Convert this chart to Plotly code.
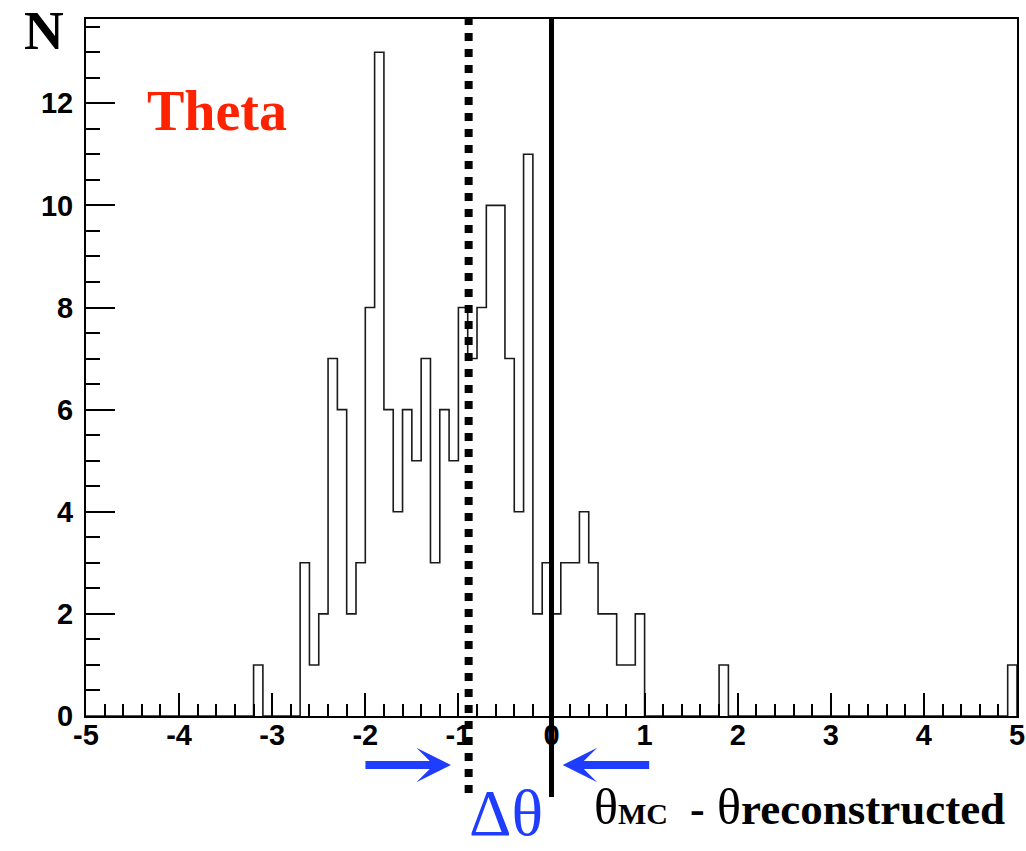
import numpy as np
import plotly.graph_objects as go

# Histogram of theta residuals: 100 bins of width 0.1 between -5 and 5
bin_low = -5.0
bin_width = 0.1
counts = [
    0, 0, 0, 0, 0, 0, 0, 0, 0, 0,      # -5.0 .. -4.1
    0, 0, 0, 0, 0, 0, 0, 0, 1, 0,      # -4.0 .. -3.1
    0, 0, 0, 3, 1, 2, 7, 6, 2, 3,      # -3.0 .. -2.1
    8, 13, 6, 4, 6, 5, 7, 3, 6, 5,     # -2.0 .. -1.1
    8, 7, 8, 10, 10, 7, 4, 11, 2, 3,   # -1.0 .. -0.1
    2, 3, 3, 4, 3, 2, 2, 1, 1, 2,      #  0.0 ..  0.9
    0, 0, 0, 0, 0, 0, 0, 0, 1, 0,      #  1.0 ..  1.9
    0, 0, 0, 0, 0, 0, 0, 0, 0, 0,      #  2.0 ..  2.9
    0, 0, 0, 0, 0, 0, 0, 0, 0, 0,      #  3.0 ..  3.9
    0, 0, 0, 0, 0, 0, 0, 0, 0, 1,      #  4.0 ..  4.9
]
x_tick_vals = [-5, -4, -3, -2, -1, 0, 1, 2, 3, 4, 5]
x_tick_text = ["-5", "-4", "-3", "-2", "-1", "0", "1", "2", "3", "4", "5"]
y_tick_vals = [0, 2, 4, 6, 8, 10, 12]
y_tick_text = ["0", "2", "4", "6", "8", "10", "12"]

# Marker lines: mean of the distribution and the zero reference
mean_shift = -0.89
zero_ref = 0.0

edges = bin_low + bin_width * np.arange(len(counts) + 1)
step_y = list(counts) + [0]

fig = go.Figure()
fig.add_trace(go.Scatter(
    x=edges, y=step_y, mode="lines", line_shape="hv",
    line=dict(color="#1a1a1a", width=1.6), hoverinfo="skip",
))

# vertical marker lines extending below the axis
fig.add_shape(type="line", xref="x", yref="paper", x0=mean_shift, x1=mean_shift,
              y0=-0.1105, y1=1.0, line=dict(color="black", width=8, dash="dot"))
fig.add_shape(type="line", xref="x", yref="paper", x0=zero_ref, x1=zero_ref,
              y0=-0.1163, y1=1.0, line=dict(color="black", width=5))

blue = "#1f3dff"
arrow_y = -0.0703
# arrows pointing at the two marker lines
fig.add_annotation(xref="x", yref="paper", axref="pixel", ayref="pixel",
                   x=mean_shift - 0.19, y=arrow_y, ax=-87, ay=0,
                   text="", showarrow=True, arrowhead=3, arrowsize=0.72,
                   arrowwidth=8, arrowcolor=blue)
fig.add_annotation(xref="x", yref="paper", axref="pixel", ayref="pixel",
                   x=zero_ref + 0.12, y=arrow_y, ax=88, ay=0,
                   text="", showarrow=True, arrowhead=3, arrowsize=0.72,
                   arrowwidth=8, arrowcolor=blue)

serif = "Liberation Serif"
fig.add_annotation(xref="paper", yref="paper", x=0.451, y=-0.138,
                   text="Δθ", showarrow=False, xanchor="center", yanchor="middle",
                   font=dict(family=serif, size=66, color=blue))
fig.add_annotation(xref="paper", yref="paper", x=0.543, y=-0.13,
                   text=("θ<span style='font-size:30px;font-weight:bold'>MC</span>"
                         "<span style='font-size:44px;font-weight:bold'>  -</span> θ"
                         "<span style='font-size:45px;font-weight:bold'>reconstructed</span>"),
                   showarrow=False, xanchor="left", yanchor="middle",
                   font=dict(family=serif, size=50, color="black"))
fig.add_annotation(xref="paper", yref="paper", x=-0.0446, y=0.984,
                   text="<b>N</b>", showarrow=False, xanchor="center", yanchor="middle",
                   font=dict(family=serif, size=55, color="black"))
fig.add_annotation(xref="paper", yref="paper", x=0.1407, y=0.8684,
                   text="<b>Theta</b>", showarrow=False, xanchor="center", yanchor="middle",
                   font=dict(family=serif, size=56, color="#ff2200"))

tick_font = dict(family="Liberation Sans", size=29, color="black", weight="bold")
fig.update_xaxes(
    range=[-5, 5], tickvals=x_tick_vals, ticktext=x_tick_text, ticks="inside",
    ticklen=23, tickwidth=2, tickcolor="black", showline=True, linewidth=2,
    linecolor="black", mirror=True, showgrid=False, zeroline=False,
    tickfont=tick_font, automargin=False, ticklabelstandoff=-8,
    minor=dict(dtick=0.2, tick0=-5, ticks="inside", ticklen=12, tickwidth=1.5,
               tickcolor="black", showgrid=False),
)
fig.update_yaxes(
    range=[0, 13.65], tickvals=y_tick_vals, ticktext=y_tick_text, ticks="inside",
    ticklen=29, tickwidth=2, tickcolor="black", showline=True, linewidth=2,
    linecolor="black", mirror=True, showgrid=False, zeroline=False,
    tickfont=tick_font, automargin=False, ticklabelstandoff=5,
    minor=dict(dtick=0.5, tick0=0, ticks="inside", ticklen=14, tickwidth=1.5,
               tickcolor="black", showgrid=False),
)
fig.update_layout(
    width=1026, height=851, margin=dict(l=86, r=9, t=19, b=135, autoexpand=False),
    paper_bgcolor="white", plot_bgcolor="white", showlegend=False,
)
fig.write_html("out.html")
